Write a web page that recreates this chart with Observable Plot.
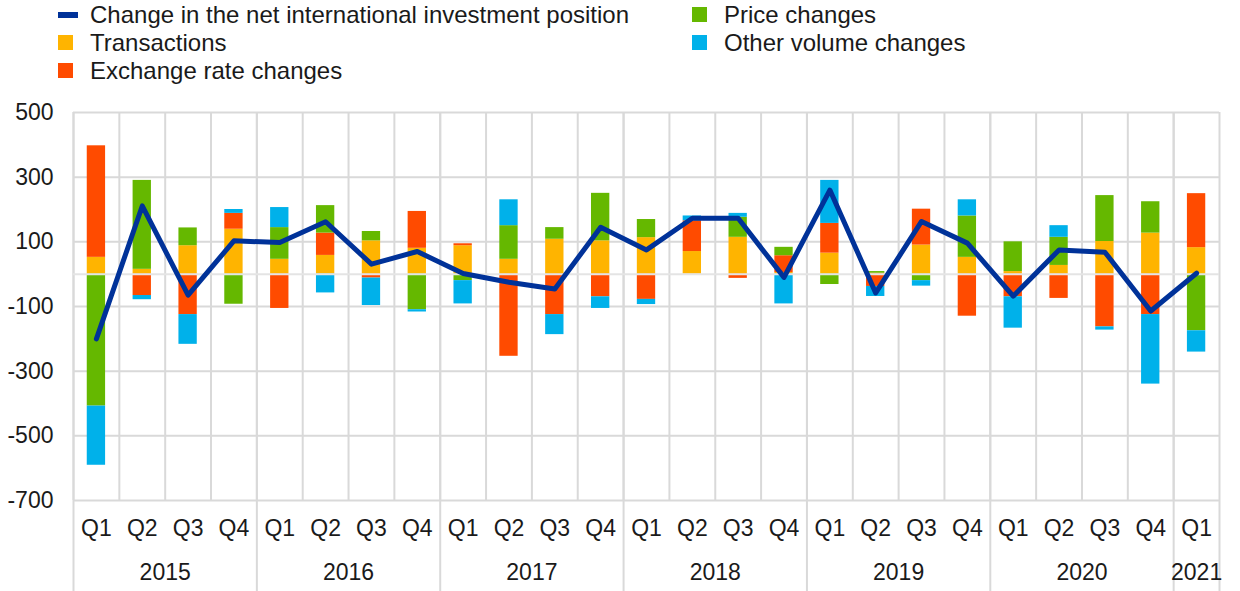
<!DOCTYPE html>
<html>
<head>
<meta charset="utf-8">
<script src="https://cdn.jsdelivr.net/npm/d3@7"></script>
<script src="https://cdn.jsdelivr.net/npm/@observablehq/plot@0.6"></script>
<style>
html, body { margin: 0; padding: 0; background: #fff; }
#wrap { position: relative; width: 1240px; height: 591px; font-family: "Liberation Sans", Arial, sans-serif; color: #1a1a1a; overflow: hidden; }
#chart { position: absolute; left: 0; top: 0; }
.lg { position: absolute; font-size: 24px; line-height: 28px; white-space: nowrap; }
.sw { position: absolute; }
</style>
</head>
<body>
<div id="wrap"><div id="chart"></div><div id="legend"></div></div>
<script>
// ---- data ----
const periods = [
  "2015Q1","2015Q2","2015Q3","2015Q4",
  "2016Q1","2016Q2","2016Q3","2016Q4",
  "2017Q1","2017Q2","2017Q3","2017Q4",
  "2018Q1","2018Q2","2018Q3","2018Q4",
  "2019Q1","2019Q2","2019Q3","2019Q4",
  "2020Q1","2020Q2","2020Q3","2020Q4",
  "2021Q1"
];
const fullYears = ["2015","2016","2017","2018","2019","2020"];
const partialYears = ["2021"];
const yTicks = [500, 300, 100, -100, -300, -500, -700];

const seriesNames = ["Transactions", "Exchange rate changes", "Price changes", "Other volume changes"];
const seriesColors = ["#FFB400", "#FF4B00", "#65B800", "#00B1EA"];
const lineName = "Change in the net international investment position";
const lineColor = "#003299";

const transactions = [52, 15, 88, 139, 46, 58, 103, 80, 88, 46, 108, 103, 113, 70, 114, 5, 65, 3, 90, 52, 8, 27, 101, 127, 82];
const exchangeRate = [345, -66, -125, 49, -106, 69, -12, 114, 6, -254, -125, -70, -78, 95, -13, 52, 92, -38, 111, -130, -70, -75, -163, -125, 167];
const priceChanges = [-408, 275, 55, -93, 98, 85, 29, -110, -20, 104, 36, 147, 56, 0, 62, 26, -32, 5, -20, 128, 92, 87, 142, 97, -175];
const otherVolume = [-183, -13, -92, 12, 62, -58, -85, -7, -72, 80, -62, -36, -16, 15, 12, -92, 133, -31, -17, 50, -97, 36, -10, -215, -66];
const netChange = [-200, 211, -65, 103, 98, 162, 31, 70, 2, -25, -46, 145, 75, 173, 173, -10, 260, -58, 163, 96, -68, 75, 68, -114, 3];

// ---- tables ----
const seriesValues = [transactions, exchangeRate, priceChanges, otherVolume];
const barRows = [];
periods.forEach((p, i) => {
  seriesNames.forEach((s, j) => barRows.push({period: p, series: s, value: seriesValues[j][i]}));
});
const lineRows = periods.map((p, i) => ({period: p, value: netChange[i]}));
const yearStarts = periods.filter(p => p.endsWith("Q1"));

// ---- layout ----
const W = 1240, H = 591, mL = 73, mR = 21, mT = 112, mB = 91;
const step = (W - mL - mR) / periods.length;
const grid = "#d9d9d9";
const font = "'Liberation Sans', Arial, sans-serif";

const chart = Plot.plot({
  width: W, height: H,
  marginLeft: mL, marginRight: mR, marginTop: mT, marginBottom: mB,
  style: {fontFamily: font, fontSize: "23px", color: "#1a1a1a", background: "transparent", overflow: "visible"},
  x: {domain: periods, paddingInner: 0.6, paddingOuter: 0.3, round: false, label: null},
  y: {domain: [-700, 500], label: null},
  color: {domain: seriesNames, range: seriesColors},
  marks: [
    Plot.ruleY(yTicks, {stroke: grid, strokeWidth: 2}),
    Plot.ruleX(periods, {x: d => d, dx: -step / 2, stroke: grid, strokeWidth: 2}),
    Plot.ruleX(yearStarts, {x: d => d, dx: -step / 2, insetBottom: -mB, stroke: grid, strokeWidth: 2}),
    Plot.ruleX([periods[periods.length - 1]], {x: d => d, dx: step / 2, insetBottom: -mB, stroke: grid, strokeWidth: 2}),
    Plot.barY(barRows, {x: "period", y: "value", fill: "series"}),
    Plot.ruleY([0], {stroke: "#e4e4e4", strokeWidth: 2}),
    Plot.line(lineRows, {x: "period", y: "value", stroke: lineColor, strokeWidth: 5, strokeLinejoin: "round"}),
    Plot.axisY({ticks: yTicks, tickSize: 0, tickPadding: 20, tickFormat: d => String(d), label: null, fontSize: 23}),
    Plot.axisX({tickSize: 0, tickPadding: 19, tickFormat: d => d.slice(4), label: null, fontSize: 23}),
    Plot.text(fullYears, {x: d => d + "Q3", text: d => d, frameAnchor: "bottom", lineAnchor: "middle", dy: 72, dx: -step / 2, fontSize: 23, fill: "#1a1a1a"}),
    Plot.text(partialYears, {x: d => d + "Q1", text: d => d, frameAnchor: "bottom", lineAnchor: "middle", dy: 72, fontSize: 23, fill: "#1a1a1a"})
  ]
});
document.getElementById("chart").appendChild(chart);

// ---- legend ----
const legendItems = [
  {label: lineName, color: lineColor, kind: "line", left: 58, top: 1},
  {label: seriesNames[0], color: seriesColors[0], kind: "square", left: 58, top: 29},
  {label: seriesNames[1], color: seriesColors[1], kind: "square", left: 58, top: 57},
  {label: seriesNames[2], color: seriesColors[2], kind: "square", left: 692, top: 1},
  {label: seriesNames[3], color: seriesColors[3], kind: "square", left: 692, top: 29}
];
const lg = document.getElementById("legend");
legendItems.forEach(it => {
  const sw = document.createElement("div");
  sw.className = "sw";
  sw.style.background = it.color;
  if (it.kind === "line") {
    sw.style.left = it.left + "px"; sw.style.top = (it.top + 11) + "px";
    sw.style.width = "20px"; sw.style.height = "6px";
  } else {
    sw.style.left = it.left + "px"; sw.style.top = (it.top + 6) + "px";
    sw.style.width = "15px"; sw.style.height = "15px";
  }
  lg.appendChild(sw);
  const t = document.createElement("div");
  t.className = "lg";
  t.style.left = (it.left + 32) + "px";
  t.style.top = it.top + "px";
  t.textContent = it.label;
  lg.appendChild(t);
});
</script>
</body>
</html>
